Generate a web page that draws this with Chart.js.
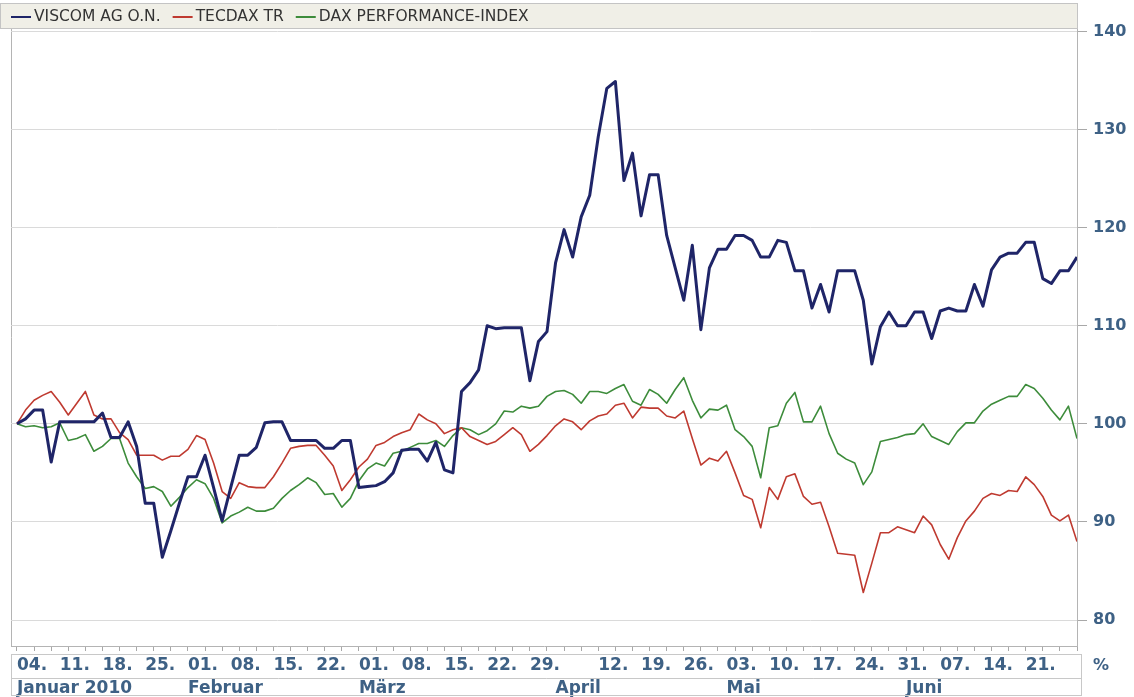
<!DOCTYPE html>
<html>
<head>
<meta charset="utf-8">
<script src="https://cdn.jsdelivr.net/npm/chart.js@4.4.1/dist/chart.umd.min.js"></script>
<style>
  html, body { margin: 0; padding: 0; background: #fff; }
  #wrap { width: 1134px; height: 697px; position: relative; }
</style>
</head>
<body>
<div id="wrap"><canvas id="perfChart"></canvas></div>
<script>
// indexed performance, 04.01.2010 = 100, one value per trading day
const viscom = [
  100, 100.5, 101.4, 101.4, 96.1, 100.2, 100.2, 100.2, 100.2, 100.2,
  101.1, 98.6, 98.6, 100.2, 97.7, 91.9, 91.9, 86.4, 89.1, 91.9,
  94.6, 94.6, 96.8, 93.5, 90.1, 93.5, 96.8, 96.8, 97.6, 100.1,
  100.2, 100.2, 98.3, 98.3, 98.3, 98.3, 97.5, 97.5, 98.3, 98.3,
  93.5, 93.6, 93.7, 94.1, 95.0, 97.3, 97.4, 97.4, 96.2, 98.1,
  95.3, 95.0, 103.3, 104.2, 105.5, 110.0, 109.7, 109.8, 109.8, 109.8,
  104.4, 108.4, 109.4, 116.4, 119.8, 117.0, 121.1, 123.3, 129.3, 134.2,
  134.9, 124.8, 127.6, 121.2, 125.4, 125.4, 119.2, 115.9, 112.6, 118.2,
  109.6, 115.9, 117.8, 117.8, 119.2, 119.2, 118.7, 117.0, 117.0, 118.7,
  118.5, 115.6, 115.6, 111.8, 114.2, 111.4, 115.6, 115.6, 115.6, 112.6,
  106.1, 109.9, 111.4, 110.0, 110.0, 111.4, 111.4, 108.7, 111.5, 111.8,
  111.5, 111.5, 114.2, 112.0, 115.7, 117.0, 117.4, 117.4, 118.5, 118.5,
  114.8, 114.3, 115.6, 115.6, 117.0
];
const tecdax = [
  100, 101.4, 102.4, 102.9, 103.3, 102.2, 100.9, 102.1, 103.3, 100.9,
  100.5, 100.5, 99.1, 98.4, 96.8, 96.8, 96.8, 96.3, 96.7, 96.7,
  97.4, 98.8, 98.4, 96.0, 93.1, 92.4, 94.0, 93.6, 93.5, 93.5,
  94.6, 96.0, 97.5, 97.7, 97.8, 97.8, 96.8, 95.7, 93.2, 94.3,
  95.6, 96.4, 97.8, 98.1, 98.7, 99.1, 99.4, 101.0, 100.4, 100.0,
  99.0, 99.4, 99.6, 98.7, 98.3, 97.9, 98.2, 98.9, 99.6, 98.9,
  97.2, 97.9, 98.8, 99.8, 100.5, 100.2, 99.4, 100.3, 100.8, 101.0,
  101.9, 102.1, 100.6, 101.7, 101.6, 101.6, 100.8, 100.6, 101.3, 98.5,
  95.8, 96.5, 96.2, 97.2, 95.0, 92.7, 92.3, 89.4, 93.5, 92.3,
  94.6, 94.9, 92.6, 91.8, 92.0, 89.5, 86.8, 86.7, 86.6, 82.8,
  85.8, 88.9, 88.9, 89.5, 89.2, 88.9, 90.6, 89.7, 87.7, 86.2,
  88.4, 90.1, 91.1, 92.4, 92.9, 92.7, 93.2, 93.1, 94.6, 93.8,
  92.6, 90.7, 90.1, 90.7, 88.0
];
const dax = [
  100, 99.7, 99.8, 99.6, 99.7, 100.1, 98.3, 98.5, 98.9, 97.2,
  97.7, 98.5, 98.5, 96.0, 94.6, 93.4, 93.6, 93.1, 91.6, 92.5,
  93.5, 94.3, 93.9, 92.4, 89.9, 90.6, 91.0, 91.5, 91.1, 91.1,
  91.4, 92.4, 93.2, 93.8, 94.5, 94.0, 92.8, 92.9, 91.5, 92.4,
  94.2, 95.4, 96.0, 95.7, 97.0, 97.2, 97.6, 98.0, 98.0, 98.3,
  97.7, 98.8, 99.6, 99.4, 98.9, 99.3, 100.0, 101.3, 101.2, 101.8,
  101.6, 101.8, 102.8, 103.3, 103.4, 103.0, 102.1, 103.3, 103.3, 103.1,
  103.6, 104.0, 102.3, 101.9, 103.5, 103.0, 102.1, 103.5, 104.7, 102.4,
  100.6, 101.5, 101.4, 101.9, 99.4, 98.7, 97.7, 94.5, 99.6, 99.8,
  102.1, 103.2, 100.2, 100.2, 101.8, 99.0, 97.0, 96.4, 96.0, 93.8,
  95.1, 98.2, 98.4, 98.6, 98.9, 99.0, 100.0, 98.7, 98.3, 97.9,
  99.2, 100.1, 100.1, 101.3, 102.0, 102.4, 102.8, 102.8, 104.0, 103.6,
  102.6, 101.4, 100.4, 101.8, 98.5
];
const seriesNames = ['VISCOM AG O.N.', 'TECDAX TR', 'DAX PERFORMANCE-INDEX'];
const yTicks = [80, 90, 100, 110, 120, 130, 140];
const monthNames = ['Januar 2010', 'Februar', 'März', 'April', 'Mai', 'Juni'];
const startDate = '2010-01-04';
const holidays = ['2010-04-02', '2010-04-05'];

// trading days (Mon-Fri without exchange holidays)
const tradingDays = [];
for (let d = new Date(startDate + 'T00:00:00Z'); tradingDays.length < viscom.length; d.setUTCDate(d.getUTCDate() + 1)) {
  const wd = d.getUTCDay();
  if (wd === 0 || wd === 6 || holidays.includes(d.toISOString().slice(0, 10))) continue;
  tradingDays.push(new Date(d));
}

function tickLabel(i) {
  const d = tradingDays[i];
  if (!d) return '';
  const prev = tradingDays[i - 1];
  const week = (d.getUTCDay() === 1 && i < tradingDays.length - 5)
    ? String(d.getUTCDate()).padStart(2, '0') + '.' : '';
  const month = (!prev || prev.getUTCMonth() !== d.getUTCMonth()) ? monthNames[d.getUTCMonth()] : '';
  return [week, month];
}

const axisColor = '#3e6185';
const fontFamily = '"DejaVu Sans", Verdana, sans-serif';

const framePlugin = {
  id: 'frame',
  beforeDraw(chart) {
    const { ctx, chartArea } = chart;
    ctx.save();
    ctx.fillStyle = '#ffffff';
    ctx.fillRect(0, 0, chart.width, chart.height);
    // legend strip
    ctx.fillStyle = '#f0efe7';
    ctx.fillRect(0, 3, chartArea.right, chartArea.top - 3);
    ctx.strokeStyle = '#c4c4c4';
    ctx.lineWidth = 1;
    ctx.strokeRect(0.5, 3.5, chartArea.right, chartArea.top - 4);
    ctx.font = '15.5px ' + fontFamily;
    ctx.textBaseline = 'middle';
    let x = 11;
    const y = 17;
    chart.data.datasets.forEach(ds => {
      ctx.strokeStyle = ds.borderColor;
      ctx.lineWidth = 2;
      ctx.beginPath();
      ctx.moveTo(x, y);
      ctx.lineTo(x + 20, y);
      ctx.stroke();
      x += 23;
      ctx.fillStyle = '#333333';
      ctx.fillText(ds.label, x, y);
      x += ctx.measureText(ds.label).width + 12;
    });
    // left frame line
    ctx.strokeStyle = '#b4b4b4';
    ctx.lineWidth = 1;
    ctx.beginPath();
    ctx.moveTo(chartArea.left + 0.5, chartArea.top);
    ctx.lineTo(chartArea.left + 0.5, chartArea.bottom);
    ctx.stroke();
    ctx.restore();
  },
  afterDraw(chart) {
    const { ctx, chartArea } = chart;
    ctx.save();
    // boxes around the date rows
    ctx.strokeStyle = '#c8c8c8';
    ctx.lineWidth = 1;
    ctx.strokeRect(chartArea.left + 0.5, 654.5, 1081 - chartArea.left, 41);
    ctx.beginPath();
    ctx.moveTo(chartArea.left, 678.5);
    ctx.lineTo(1081.5, 678.5);
    ctx.stroke();
    // unit label
    ctx.fillStyle = axisColor;
    ctx.font = 'bold 16px ' + fontFamily;
    ctx.textBaseline = 'middle';
    ctx.fillText('%', chartArea.right + 16, 666);
    ctx.restore();
  }
};

const ctx = document.getElementById('perfChart').getContext('2d');
const perfChart = new Chart(ctx, {
  type: 'line',
  data: {
    datasets: [{
      label: seriesNames[0],
      data: viscom.map((v, i) => ({ x: i, y: v })),
      borderColor: '#1f2568',
      borderWidth: 3
    }, {
      label: seriesNames[1],
      data: tecdax.map((v, i) => ({ x: i, y: v })),
      borderColor: '#bf3a30',
      borderWidth: 1.6
    }, {
      label: seriesNames[2],
      data: dax.map((v, i) => ({ x: i, y: v })),
      borderColor: '#3d8c3b',
      borderWidth: 1.6
    }]
  },
  options: {
    responsive: true,
    maintainAspectRatio: false,
    animation: false,
    layout: { padding: { left: 11, top: 29, right: 0, bottom: 0 } },
    elements: {
      point: { radius: 0 },
      line: { tension: 0, borderJoinStyle: 'round', fill: false }
    },
    plugins: {
      legend: { display: false },
      tooltip: { enabled: false }
    },
    scales: {
      x: {
        type: 'linear',
        min: -0.7,
        max: viscom.length - 1,
        afterBuildTicks: scale => { scale.ticks = tradingDays.map((d, i) => ({ value: i })); },
        afterFit: scale => { scale.height = 51; },
        border: { display: true, color: '#b4b4b4' },
        grid: {
          drawOnChartArea: false,
          drawTicks: true,
          tickLength: 5,
          tickColor: c => (c.tick && c.tick.value % 2 === 0) ? '#a8a8a8' : 'rgba(0,0,0,0)'
        },
        ticks: {
          autoSkip: false,
          maxRotation: 0,
          minRotation: 0,
          align: 'start',
          padding: 3,
          color: axisColor,
          font: { family: fontFamily, size: 17, weight: 'bold', lineHeight: 23 / 17 },
          callback: v => tickLabel(v)
        }
      },
      y: {
        position: 'right',
        min: 77.35,
        max: 140.25,
        afterBuildTicks: scale => { scale.ticks = yTicks.map(v => ({ value: v })); },
        afterFit: scale => { scale.width = 57; },
        border: { display: true, color: '#b4b4b4' },
        grid: { color: '#dadada', tickColor: '#a8a8a8', tickLength: 10 },
        ticks: {
          padding: 6,
          color: axisColor,
          font: { family: fontFamily, size: 16, weight: 'bold' },
          callback: v => String(v)
        }
      }
    }
  },
  plugins: [framePlugin]
});
</script>
</body>
</html>
